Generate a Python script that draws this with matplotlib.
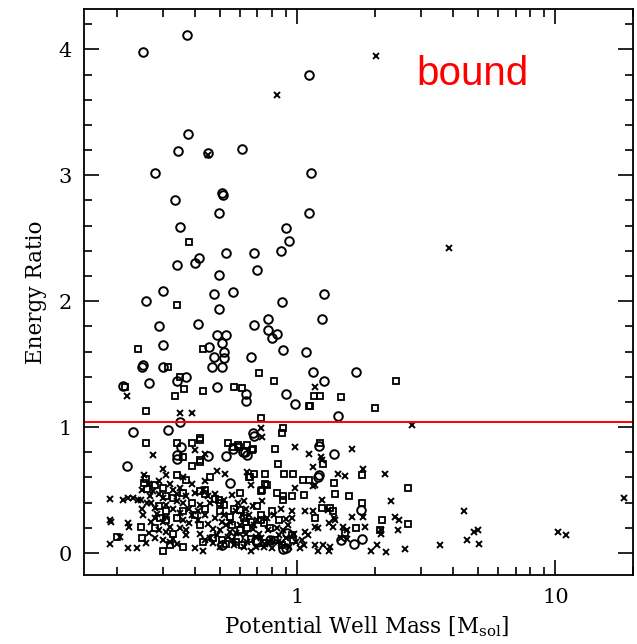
import matplotlib
matplotlib.use("Agg")
import matplotlib.pyplot as plt
from matplotlib.ticker import MultipleLocator, LogLocator, NullFormatter, FixedLocator

# open circles (mass, ratio)
circ_mass = [0.252, 0.372, 1.11, 0.375, 0.345, 0.45, 0.61, 0.28, 1.13, 0.51, 0.515, 0.334,
             0.495, 1.11, 0.352, 0.90, 0.93, 0.86, 0.53, 0.68, 0.417, 0.40, 0.34, 0.70,
             0.495, 0.258, 0.30, 0.477, 0.565, 0.495, 0.875, 1.27, 1.24,
             0.29, 0.41, 0.68, 0.77, 0.77, 0.83, 0.80, 0.49, 0.53, 0.51, 0.30, 0.456,
             0.52, 0.477, 0.52, 0.465, 0.51, 0.88, 1.08, 0.66, 0.25, 0.253, 0.30, 1.15,
             0.34, 0.37, 0.49, 0.63, 0.63, 0.21, 0.265, 0.906, 0.98, 1.27, 1.68, 1.43,
             0.35, 0.23, 0.315, 0.355, 0.67, 0.68, 0.34, 0.34, 0.45, 0.53, 0.625, 0.64,
             0.218, 0.55, 1.20, 1.21, 1.38, 1.21, 0.565, 0.617, 1.77, 1.78, 1.65, 1.47,
             0.59, 0.70, 0.88, 0.91, 0.51, 0.69, 0.786, 0.90]
circ_ratio = [3.98, 4.11, 3.80, 3.33, 3.19, 3.18, 3.21, 3.02, 3.02, 2.86, 2.84, 2.80,
              2.70, 2.70, 2.59, 2.58, 2.48, 2.40, 2.38, 2.38, 2.34, 2.30, 2.29, 2.25,
              2.21, 2.00, 2.08, 2.06, 2.07, 1.94, 1.99, 2.06, 1.86,
              1.80, 1.82, 1.81, 1.86, 1.77, 1.74, 1.71, 1.73, 1.73, 1.67, 1.65, 1.64,
              1.60, 1.56, 1.55, 1.48, 1.48, 1.61, 1.60, 1.56, 1.48, 1.49, 1.48, 1.44,
              1.37, 1.40, 1.32, 1.26, 1.21, 1.33, 1.35, 1.26, 1.18, 1.37, 1.44, 1.09,
              1.04, 0.96, 0.98, 0.84, 0.95, 0.93, 0.78, 0.75, 0.77, 0.77, 0.80, 0.78,
              0.69, 0.56, 0.60, 0.85, 0.79, 0.62, 0.83, 0.80, 0.34, 0.11, 0.07, 0.10,
              0.12, 0.09, 0.03, 0.16, 0.06, 0.10, 0.10, 0.04]

# open squares
sq_mass = [0.38, 0.34, 0.242, 0.43, 0.316, 0.71, 0.352, 0.365, 0.57, 0.61, 0.81, 0.215,
           0.43, 0.334, 1.12, 1.16, 0.26, 0.725, 2.40, 2.00, 1.48, 1.22, 1.11,
           0.26, 0.34, 0.39, 0.418, 0.88, 0.87, 0.82, 0.36, 0.595, 0.64, 0.665, 0.39,
           0.42, 0.84, 0.68, 0.75, 0.89, 0.965, 0.65, 0.76, 1.055, 1.11, 0.60, 0.725,
           0.83, 0.88, 0.88, 0.955, 1.06, 0.95, 0.96,
           1.22, 1.26, 1.39, 1.78, 2.69, 1.40, 1.59, 1.78, 1.25, 1.34, 1.37, 1.17,
           2.13, 2.67, 1.69, 2.08, 1.53, 0.54, 0.565, 0.59, 0.67, 0.42, 0.42,
           0.255, 0.20, 0.247, 0.25, 0.30, 0.258, 0.262, 0.28, 0.30, 0.29, 0.31, 0.33,
           0.34, 0.36, 0.37, 0.39, 0.40, 0.42, 0.44, 0.46, 0.48, 0.50, 0.52, 0.55,
           0.57, 0.60, 0.62, 0.64, 0.66, 0.70, 0.72, 0.74, 0.80, 0.85, 0.36, 0.33,
           0.43, 0.47, 0.53, 0.58, 0.61, 0.66, 0.74, 0.82, 0.87, 0.34, 0.31, 0.44,
           0.56, 0.78, 0.28, 0.32, 0.657, 0.75, 0.73, 0.418, 0.44, 0.495, 0.50,
           0.60, 0.63, 0.72, 0.51, 0.36, 0.31, 0.294]
sq_ratio = [2.47, 1.97, 1.62, 1.62, 1.48, 1.43, 1.40, 1.30, 1.32, 1.31, 1.37, 1.32,
            1.29, 1.25, 1.17, 1.25, 1.13, 1.07, 1.37, 1.15, 1.24, 1.25, 1.17,
            0.87, 0.87, 0.87, 0.90, 0.99, 0.95, 0.83, 0.76, 0.84, 0.86, 0.82, 0.69,
            0.72, 0.71, 0.63, 0.63, 0.63, 0.63, 0.60, 0.54, 0.58, 0.58, 0.48, 0.49,
            0.48, 0.45, 0.42, 0.45, 0.46, 0.14, 0.10,
            0.87, 0.71, 0.56, 0.62, 0.52, 0.47, 0.45, 0.40, 0.36, 0.36, 0.33, 0.28,
            0.26, 0.23, 0.20, 0.18, 0.16, 0.87, 0.84, 0.86, 0.83, 0.91, 0.74,
            0.56, 0.13, 0.21, 0.12, 0.02, 0.59, 0.51, 0.54, 0.52, 0.37, 0.33, 0.44,
            0.28, 0.48, 0.58, 0.40, 0.30, 0.22, 0.35, 0.60, 0.43, 0.33, 0.38, 0.29,
            0.35, 0.34, 0.28, 0.20, 0.25, 0.37, 0.30, 0.24, 0.33, 0.26, 0.05, 0.15,
            0.09, 0.12, 0.07, 0.09, 0.06, 0.11, 0.08, 0.10, 0.06, 0.62, 0.45, 0.50,
            0.22, 0.20, 0.20, 0.06, 0.60, 0.55, 0.50, 0.49, 0.47, 0.42, 0.40,
            0.18, 0.25, 0.26, 0.10, 0.33, 0.26, 0.28]

# crosses
x_mass = [0.83, 0.45, 2.02, 3.88, 0.218, 1.17, 0.352, 0.39, 0.72, 0.73, 0.275, 0.44,
          0.40, 0.98, 0.30, 0.486, 0.526, 0.64, 0.66, 0.98, 1.15,
          2.77, 1.62, 1.11, 1.23, 1.24, 1.15, 1.17, 1.43, 1.53, 1.80, 2.19, 2.31,
          1.24, 1.07, 1.15, 1.31, 1.38, 1.40, 1.62, 1.80, 2.38, 2.48, 1.83, 2.46,
          1.17, 1.20, 1.32, 1.37, 1.50, 1.56, 2.10, 2.10, 1.07, 1.10, 1.06, 1.17,
          1.26, 1.34, 1.47, 1.56, 1.92, 2.04, 2.21, 2.60, 3.58, 4.43, 4.56, 4.85,
          5.03, 5.07, 10.2, 11.0, 18.5, 1.20, 1.33,
          0.188, 0.188, 0.19, 0.188, 0.205, 0.21, 0.22, 0.23, 0.24, 0.22, 0.222,
          0.22, 0.238, 0.253, 0.262, 0.247, 0.25, 0.255, 0.265, 0.268, 0.275, 0.28,
          0.285, 0.27, 0.265, 0.28, 0.29, 0.30, 0.31, 0.32, 0.33, 0.34, 0.30, 0.31,
          0.32, 0.33, 0.34, 0.35, 0.36, 0.37, 0.37, 0.38, 0.39, 0.40, 0.41, 0.42,
          0.42, 0.44, 0.45, 0.46, 0.47, 0.48, 0.50, 0.50, 0.52, 0.54, 0.55, 0.57,
          0.58, 0.60, 0.62, 0.63, 0.65, 0.67, 0.69, 0.70, 0.72, 0.75, 0.77, 0.80,
          0.81, 0.84, 0.86, 0.88, 0.90, 0.93, 0.95, 0.97, 0.40, 0.44, 0.36, 0.35,
          0.29, 0.31, 0.44, 0.48, 0.52, 0.56, 0.62, 0.67, 0.73, 0.90, 0.95, 0.26,
          0.30, 0.43, 0.49, 0.58, 0.66, 0.74, 0.86, 1.02, 1.04,
          0.27, 0.29, 0.33, 0.35, 0.38, 0.41, 0.45, 0.47, 0.53, 0.56, 0.61, 0.64,
          0.68, 0.71, 0.76, 0.79, 0.83, 0.92, 0.99, 0.31, 0.34, 0.37, 0.39, 0.43,
          0.46, 0.51, 0.55, 0.59, 0.63, 0.69, 0.78, 0.85, 0.25, 0.28, 0.32, 0.36]
x_ratio = [3.64, 3.16, 3.95, 2.42, 1.25, 1.32, 1.11, 1.11, 0.99, 0.92, 0.78, 0.79,
           0.82, 0.84, 0.67, 0.65, 0.63, 0.64, 0.54, 0.52, 0.53,
           1.02, 0.83, 0.79, 0.76, 0.74, 0.68, 0.54, 0.63, 0.61, 0.67, 0.63, 0.41,
           0.42, 0.33, 0.33, 0.34, 0.28, 0.26, 0.29, 0.29, 0.29, 0.26, 0.21, 0.18,
           0.21, 0.20, 0.24, 0.21, 0.21, 0.18, 0.18, 0.15, 0.17, 0.14, 0.06, 0.06,
           0.06, 0.05, 0.12, 0.11, 0.02, 0.06, 0.01, 0.03, 0.06, 0.33, 0.10, 0.17,
           0.18, 0.07, 0.17, 0.14, 0.44, 0.02, 0.02,
           0.43, 0.26, 0.25, 0.07, 0.13, 0.42, 0.44, 0.44, 0.42, 0.24, 0.21,
           0.04, 0.04, 0.30, 0.40, 0.42, 0.35, 0.62, 0.55, 0.45, 0.49, 0.36,
           0.31, 0.25, 0.16, 0.12, 0.18, 0.25, 0.38, 0.55, 0.50, 0.41, 0.44, 0.29,
           0.21, 0.11, 0.07, 0.32, 0.26, 0.45, 0.18, 0.35, 0.55, 0.48, 0.26, 0.38,
           0.15, 0.30, 0.23, 0.40, 0.08, 0.28, 0.18, 0.05, 0.30, 0.13, 0.25, 0.06,
           0.33, 0.22, 0.05, 0.15, 0.30, 0.19, 0.05, 0.26, 0.12, 0.07, 0.18, 0.04,
           0.30, 0.09, 0.35, 0.18, 0.12, 0.05, 0.28, 0.15, 0.04, 0.10, 0.60, 0.52,
           0.57, 0.62, 0.57, 0.47, 0.42, 0.46, 0.41, 0.37, 0.41, 0.27, 0.33, 0.08,
           0.10, 0.02, 0.14, 0.16, 0.02, 0.05, 0.08, 0.04, 0.10,
           0.40, 0.47, 0.35, 0.20, 0.24, 0.33, 0.45, 0.19, 0.22, 0.10, 0.30, 0.09,
           0.22, 0.15, 0.28, 0.11, 0.20, 0.22, 0.09, 0.17, 0.47, 0.14, 0.30, 0.50,
           0.12, 0.25, 0.17, 0.40, 0.35, 0.13, 0.09, 0.14, 0.50, 0.28, 0.09, 0.40]

bound_level = 1.04

plt.rcParams['mathtext.fontset'] = 'dejavuserif'
fig = plt.figure(figsize=(6.37, 6.44), dpi=100)
ax = fig.add_axes([0.132, 0.107, 0.862, 0.879])

ax.plot(circ_mass, circ_ratio, linestyle='none', marker='o', ms=6.2,
        mfc='none', mec='black', mew=1.4)
ax.plot(sq_mass, sq_ratio, linestyle='none', marker='s', ms=4.8,
        mfc='none', mec='black', mew=1.3)
ax.plot(x_mass, x_ratio, linestyle='none', marker='x', ms=4.2,
        color='black', mew=1.4)

ax.axhline(bound_level, color='red', lw=1.4)
ax.text(0.708, 0.885, 'bound', transform=ax.transAxes, color='red',
        fontsize=29, family='Liberation Sans', ha='center', va='center')

ax.set_xscale('log')
ax.set_xlim(0.149, 20.0)
ax.set_ylim(-0.175, 4.32)

ax.xaxis.set_major_locator(FixedLocator([1, 10]))
ax.xaxis.set_minor_locator(LogLocator(base=10, subs=range(2, 10)))
ax.xaxis.set_minor_formatter(NullFormatter())
ax.set_xticklabels(['1', '10'])
ax.yaxis.set_major_locator(MultipleLocator(1))
ax.yaxis.set_minor_locator(MultipleLocator(0.2))

ax.tick_params(which='both', direction='in', top=True, right=True, width=1.2)
ax.tick_params(which='major', length=11, labelsize=15, pad=9)
ax.tick_params(which='minor', length=5.5)
for lab in ax.get_xticklabels() + ax.get_yticklabels():
    lab.set_family('DejaVu Serif')
for s in ax.spines.values():
    s.set_linewidth(1.3)

ax.set_xlabel(r'Potential Well Mass [M$_{\mathrm{sol}}$]', family='DejaVu Serif',
              fontsize=15.5)
ax.set_ylabel('Energy Ratio', family='DejaVu Serif', fontsize=15.5)
ax.xaxis.set_label_coords(0.515, -0.07)
ax.yaxis.set_label_coords(-0.067, 0.5)

fig.savefig('out.png', dpi=100)
